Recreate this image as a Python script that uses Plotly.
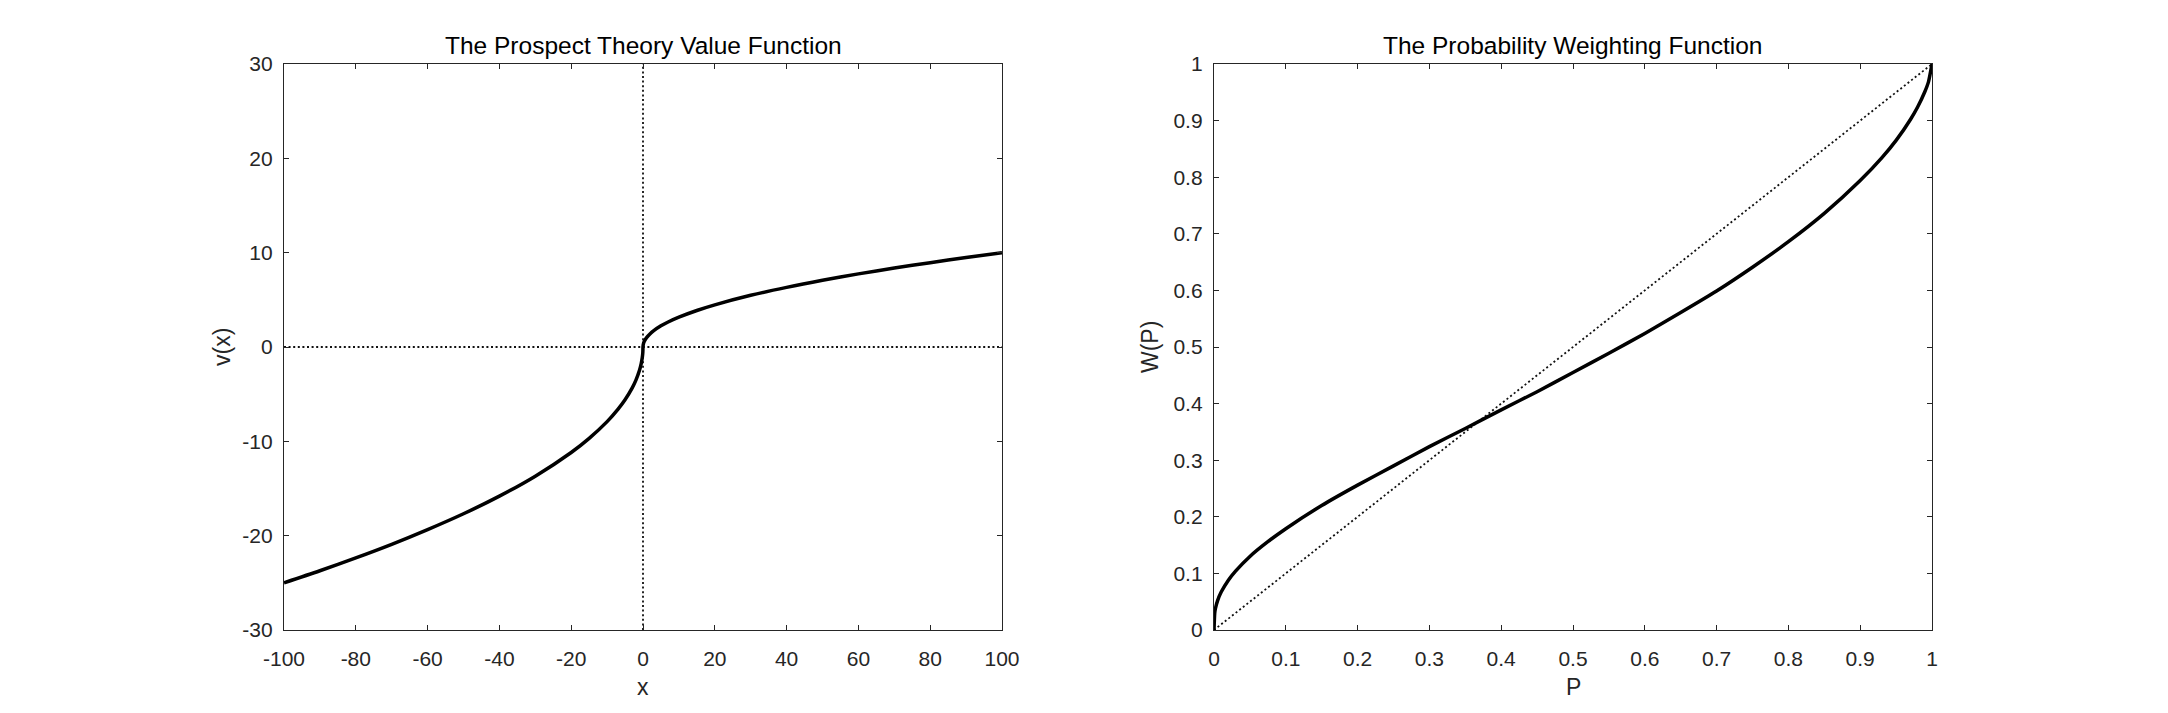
import plotly.graph_objects as go

W, H = 2168, 713

# ---- Data ----
# Left: prospect theory value function v(x)
value_x = [-100, -90, -80, -70, -60, -50, -40, -30, -20, -15, -10, -7, -5, -3, -2, -1,
           -0.5, -0.2, -0.05, 0, 0.05, 0.2, 0.5, 1, 2, 3, 5, 7, 10, 15, 20, 30, 40,
           50, 60, 70, 80, 90, 100]
value_v = [-25.0, -23.72, -22.36, -20.92, -19.36, -17.68, -15.81, -13.69, -11.18, -9.68,
           -7.91, -6.61, -5.59, -4.33, -3.54, -2.5, -1.77, -1.12, -0.56, 0.0, 0.22,
           0.45, 0.71, 1.0, 1.41, 1.73, 2.24, 2.65, 3.16, 3.87, 4.47, 5.48, 6.32,
           7.07, 7.75, 8.37, 8.94, 9.49, 10.0]

# Right: probability weighting function W(P)
prob_p = [0, 0.001, 0.002, 0.005, 0.01, 0.02, 0.03, 0.05, 0.075, 0.1, 0.15, 0.2,
          0.25, 0.3, 0.35, 0.4, 0.45, 0.5, 0.55, 0.6, 0.65, 0.7, 0.75, 0.8, 0.85,
          0.9, 0.93, 0.95, 0.97, 0.98, 0.99, 0.995, 1.0]
prob_w = [0, 0.030, 0.038, 0.052, 0.067, 0.088, 0.104, 0.130, 0.156, 0.179, 0.220,
          0.256, 0.290, 0.324, 0.356, 0.389, 0.421, 0.455, 0.489, 0.524, 0.561,
          0.599, 0.641, 0.686, 0.736, 0.794, 0.834, 0.865, 0.902, 0.924, 0.951,
          0.968, 1.0]

# reference lines
hline_x = [-100, 100]
hline_y = [0, 0]
vline_x = [0, 0]
vline_y = [-30, 30]
diag_p = [0, 1]
diag_w = [0, 1]

# ticks
left_xticks = [-100, -80, -60, -40, -20, 0, 20, 40, 60, 80, 100]
left_xticktext = ["-100", "-80", "-60", "-40", "-20", "0", "20", "40", "60", "80", "100"]
left_yticks = [-30, -20, -10, 0, 10, 20, 30]
left_yticktext = ["-30", "-20", "-10", "0", "10", "20", "30"]
right_ticks = [0, 0.1, 0.2, 0.3, 0.4, 0.5, 0.6, 0.7, 0.8, 0.9, 1.0]
right_ticktext = ["0", "0.1", "0.2", "0.3", "0.4", "0.5", "0.6", "0.7", "0.8", "0.9", "1"]

titles = ["The Prospect Theory Value Function", "The Probability Weighting Function"]
xlabels = ["x", "P"]
ylabels = ["v(x)", "W(P)"]

# ---- Layout geometry (pixels) ----
L1, R1 = 284, 1002
L2, R2 = 1214, 1932
TOP, BOT = 64, 630

def px(x):
    return x / W

def py(y):
    return 1 - y / H

FONT = "Liberation Sans, Arial, sans-serif"
AXC = "#262626"
DOT = dict(color="#111111", width=1.8, dash="2px,2.6px")

fig = go.Figure()

fig.add_trace(go.Scatter(x=hline_x, y=hline_y, mode="lines", line=DOT,
                         xaxis="x", yaxis="y", showlegend=False, hoverinfo="skip"))
fig.add_trace(go.Scatter(x=vline_x, y=vline_y, mode="lines", line=DOT,
                         xaxis="x", yaxis="y", showlegend=False, hoverinfo="skip"))
fig.add_trace(go.Scatter(x=value_x, y=value_v, mode="lines",
                         line=dict(color="black", width=3.5, shape="spline", smoothing=0.8),
                         xaxis="x", yaxis="y", showlegend=False))

fig.add_trace(go.Scatter(x=diag_p, y=diag_w, mode="lines", line=DOT,
                         xaxis="x2", yaxis="y2", showlegend=False, hoverinfo="skip"))
fig.add_trace(go.Scatter(x=prob_p, y=prob_w, mode="lines",
                         line=dict(color="black", width=3.5, shape="spline", smoothing=0.6),
                         xaxis="x2", yaxis="y2", showlegend=False))

axis_common = dict(showline=True, linecolor=AXC, linewidth=1.3, mirror="ticks",
                   ticks="inside", ticklen=5, tickwidth=1.1, tickcolor=AXC,
                   showgrid=False, zeroline=False, automargin=False,
                   tickfont=dict(family=FONT, size=21, color=AXC))

fig.update_layout(
    width=W, height=H, autosize=False,
    margin=dict(l=0, r=0, t=0, b=0, pad=0, autoexpand=False),
    paper_bgcolor="white", plot_bgcolor="white",
    showlegend=False,
    xaxis=dict(domain=[px(L1), px(R1)], range=[-100, 100], tickvals=left_xticks,
               ticktext=left_xticktext, anchor="y", ticklabelstandoff=10, **axis_common),
    yaxis=dict(domain=[py(BOT), py(TOP)], range=[-30, 30], tickvals=left_yticks,
               ticktext=left_yticktext, anchor="x", ticklabelstandoff=6, **axis_common),
    xaxis2=dict(domain=[px(L2), px(R2)], range=[0, 1], tickvals=right_ticks,
                ticktext=right_ticktext, anchor="y2", ticklabelstandoff=10, **axis_common),
    yaxis2=dict(domain=[py(BOT), py(TOP)], range=[0, 1], tickvals=right_ticks,
                ticktext=right_ticktext, anchor="x2", ticklabelstandoff=6, **axis_common),
)

ann = []
centers = [(L1 + R1) / 2, (L2 + R2) / 2]
ylab_x = [222, 1150]
for i in range(2):
    ann.append(dict(text=titles[i], x=px(centers[i]), y=py(45), xref="paper", yref="paper",
                    showarrow=False, xanchor="center", yanchor="middle",
                    font=dict(family=FONT, size=24.5, color="black")))
    ann.append(dict(text=xlabels[i], x=px(centers[i]), y=py(687), xref="paper", yref="paper",
                    showarrow=False, xanchor="center", yanchor="middle",
                    font=dict(family=FONT, size=23, color=AXC)))
    ann.append(dict(text=ylabels[i], x=px(ylab_x[i]), y=py((TOP + BOT) / 2), xref="paper",
                    yref="paper", showarrow=False, xanchor="center", yanchor="middle",
                    textangle=-90, font=dict(family=FONT, size=23, color=AXC)))
fig.update_layout(annotations=ann)

fig.write_html("out.html", config={"responsive": False})
